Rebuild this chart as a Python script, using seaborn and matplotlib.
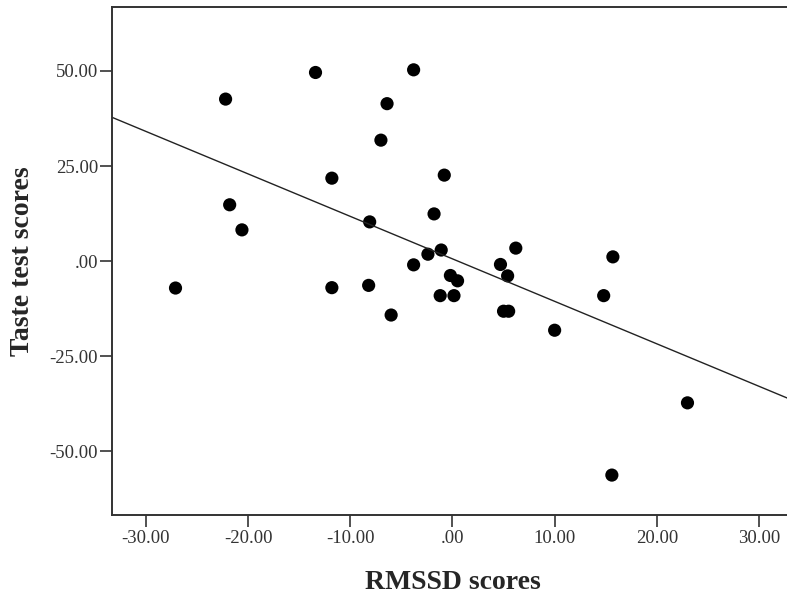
import matplotlib
matplotlib.use("Agg")
import matplotlib.pyplot as plt
import seaborn as sns
import pandas as pd

# values
rmssd = [-27.1, -22.2, -21.8, -20.6, -13.4, -11.8, -11.8, -8.2, -8.1, -7.0,
         -6.4, -6.0, -3.8, -3.8, -2.4, -1.8, -1.1, -0.8, -1.2, -0.2,
         0.15, 0.5, 4.7, 5.0, 5.4, 5.5, 6.2, 10.0, 14.8, 15.7,
         23.0, 15.6]
taste = [-7.1, 42.6, 14.8, 8.2, 49.6, 21.8, -7.0, -6.4, 10.3, 31.8,
         41.4, -14.2, 50.3, -1.0, 1.8, 12.4, 2.9, 22.6, -9.1, -3.8,
         -9.1, -5.2, -0.9, -13.2, -3.9, -13.2, 3.4, -18.2, -9.1, 1.1,
         -37.3, -56.3]
x_ticks = [-30, -20, -10, 0, 10, 20, 30]
y_ticks = [-50, -25, 0, 25, 50]

df = pd.DataFrame({'RMSSD': rmssd, 'Taste': taste})

sns.set_style('white')
plt.rcParams['font.family'] = ['Liberation Serif', 'DejaVu Serif']

fig = plt.figure(figsize=(7.87, 5.98), dpi=100)
# right edge of the axes sits just past the figure, as in the cropped original
ax = fig.add_axes([0.1429, 0.1388, 0.864, 0.8487])
ax.set_xlim(-33.27, 33.27)
ax.set_ylim(-66.8, 66.7)

sns.regplot(x='RMSSD', y='Taste', data=df, ax=ax, ci=None, truncate=False,
            scatter_kws={'s': 90, 'color': 'black', 'edgecolor': 'none', 'alpha': 1},
            line_kws={'color': '#222222', 'linewidth': 1.0})

ax.set_xlim(-33.27, 33.27)
ax.set_ylim(-66.8, 66.7)
ax.set_xticks(x_ticks)
ax.set_yticks(y_ticks)

def fmt(v):
    s = '%.2f' % v
    if s.startswith('0.'):
        s = s[1:]
    elif s.startswith('-0.'):
        s = '-' + s[2:]
    return s

ax.set_xticklabels([fmt(v) for v in x_ticks])
ax.set_yticklabels([fmt(v) for v in y_ticks])
ax.tick_params(axis='both', which='major', direction='out', length=8.5, width=1.2,
               color='#333333', labelsize=13.5, labelcolor='#333333', pad=2,
               bottom=True, left=True)

for side in ['top', 'bottom', 'left', 'right']:
    ax.spines[side].set_linewidth(1.4)
    ax.spines[side].set_color('#333333')

ax.set_xlabel('RMSSD scores', fontsize=20, fontweight='bold', labelpad=17)
ax.set_ylabel('Taste test scores', fontsize=20, fontweight='bold', labelpad=10)

fig.savefig('out.png', dpi=100)
